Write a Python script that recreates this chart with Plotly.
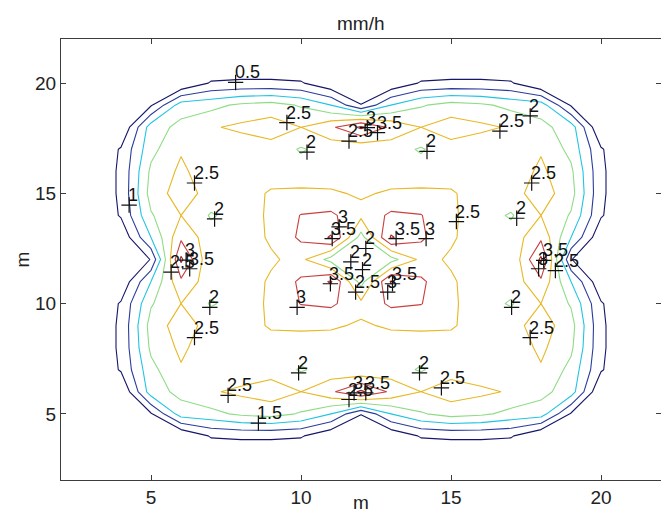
import plotly.graph_objects as go

# Grid coordinates (m)
x_m = list(range(2, 23))
y_m = list(range(2, 23))

# Application rate on the grid (mm/h); rows run from y=2 (bottom) to y=22 (top)
rain_mm_h = [
    [0, 0, 0, 0, 0, 0, 0, 0, 0, 0, 0, 0, 0, 0, 0, 0, 0, 0, 0, 0, 0],
    [0, 0, 0, 0, 0, 0, 0, 0, 0, 0, 0, 0, 0, 0, 0, 0, 0, 0, 0, 0, 0],
    [0, 0, 0, 0, 0, 0.55, 0.6, 0.6, 0.55, 0.1, 0, 0.1, 0.55, 0.6, 0.6, 0.55, 0, 0, 0, 0, 0],
    [0, 0, 0, 0.45, 1.75, 1.85, 2.1, 2.2, 1.95, 1.5, 0.52, 1.5, 1.95, 2.2, 2.1, 1.85, 1.75, 0.45, 0, 0, 0],
    [0, 0, 0, 1.75, 2.15, 2.45, 2.6, 2.75, 2.5, 2.9, 3.6, 2.9, 2.5, 2.75, 2.6, 2.45, 2.15, 1.75, 0, 0, 0],
    [0, 0, 0.55, 1.85, 2.45, 2.3, 2.2, 2.3, 1.95, 2.2, 2.05, 2.2, 1.95, 2.3, 2.2, 2.3, 2.45, 1.85, 0.55, 0, 0],
    [0, 0, 0.6, 2.1, 2.6, 2.2, 2.3, 2.3, 2.2, 2.3, 2.25, 2.3, 2.2, 2.3, 2.3, 2.2, 2.6, 2.1, 0.6, 0, 0],
    [0, 0, 0.6, 2.2, 2.75, 2.3, 2.3, 2.55, 2.6, 2.55, 2.45, 2.55, 2.6, 2.55, 2.3, 2.3, 2.75, 2.2, 0.6, 0, 0],
    [0, 0, 0.55, 1.95, 2.5, 1.95, 2.2, 2.6, 3.02, 3.1, 2.62, 3.1, 3.02, 2.6, 2.2, 1.95, 2.5, 1.95, 0.55, 0, 0],
    [0, 0, 0.1, 1.5, 2.9, 2.2, 2.3, 2.55, 3.1, 3.55, 1.8, 3.55, 3.1, 2.55, 2.3, 2.2, 2.9, 1.5, 0.1, 0, 0],
    [0, 0, 0, 0.52, 3.6, 2.05, 2.25, 2.45, 2.62, 1.8, 1.75, 1.8, 2.62, 2.45, 2.25, 2.05, 3.6, 0.52, 0, 0, 0],
    [0, 0, 0.1, 1.5, 2.9, 2.2, 2.3, 2.55, 3.1, 3.55, 1.8, 3.55, 3.1, 2.55, 2.3, 2.2, 2.9, 1.5, 0.1, 0, 0],
    [0, 0, 0.55, 1.95, 2.5, 1.95, 2.2, 2.6, 3.02, 3.1, 2.62, 3.1, 3.02, 2.6, 2.2, 1.95, 2.5, 1.95, 0.55, 0, 0],
    [0, 0, 0.6, 2.2, 2.75, 2.3, 2.3, 2.55, 2.6, 2.55, 2.45, 2.55, 2.6, 2.55, 2.3, 2.3, 2.75, 2.2, 0.6, 0, 0],
    [0, 0, 0.6, 2.1, 2.6, 2.2, 2.3, 2.3, 2.2, 2.3, 2.25, 2.3, 2.2, 2.3, 2.3, 2.2, 2.6, 2.1, 0.6, 0, 0],
    [0, 0, 0.55, 1.85, 2.45, 2.3, 2.2, 2.3, 1.95, 2.2, 2.05, 2.2, 1.95, 2.3, 2.2, 2.3, 2.45, 1.85, 0.55, 0, 0],
    [0, 0, 0, 1.75, 2.15, 2.45, 2.6, 2.75, 2.5, 2.9, 3.6, 2.9, 2.5, 2.75, 2.6, 2.45, 2.15, 1.75, 0, 0, 0],
    [0, 0, 0, 0.45, 1.75, 1.85, 2.1, 2.2, 1.95, 1.5, 0.52, 1.5, 1.95, 2.2, 2.1, 1.85, 1.75, 0.45, 0, 0, 0],
    [0, 0, 0, 0, 0, 0.55, 0.6, 0.6, 0.55, 0.1, 0, 0.1, 0.55, 0.6, 0.6, 0.55, 0, 0, 0, 0, 0],
    [0, 0, 0, 0, 0, 0, 0, 0, 0, 0, 0, 0, 0, 0, 0, 0, 0, 0, 0, 0, 0],
    [0, 0, 0, 0, 0, 0, 0, 0, 0, 0, 0, 0, 0, 0, 0, 0, 0, 0, 0, 0, 0],
]

# Contour levels and their line colours
levels = [0.5, 1.0, 1.5, 2.0, 2.5, 3.0, 3.5]
level_colors = ["#16166a", "#2a3c9c", "#22c4e4", "#8fdc86", "#e8b824", "#c84040", "#9a2a2a"]

# Contour labels: position of the "+" marker and the level it names
label_x = [7.82, 4.27, 6.45, 7.12, 9.53, 10.2, 11.6, 12.21, 12.55, 14.2, 16.63, 17.64,
           17.69, 17.19, 15.18, 13.17, 14.17, 11.27, 11.04, 12.16, 11.66, 12.05,
           10.98, 11.82, 13.05, 12.89, 9.87, 5.67, 6.17, 6.29, 6.96, 6.45,
           9.92, 7.57, 8.58, 11.6, 11.77, 12.16, 13.95, 14.68, 17.02, 17.64,
           17.92, 18.09, 18.48]
label_y = [20.03, 14.47, 15.47, 13.84, 18.21, 16.87, 17.37, 17.98, 17.75, 16.9, 17.82, 18.51,
           15.47, 13.87, 13.72, 12.95, 12.95, 13.48, 12.95, 12.5, 11.89, 11.54,
           10.9, 10.52, 10.9, 10.52, 9.83, 11.43, 11.97, 11.58, 9.83, 8.46,
           6.86, 5.84, 4.58, 5.65, 5.95, 5.95, 6.86, 6.18, 9.83, 8.46,
           11.58, 11.96, 11.5]
label_text = ["0.5", "1", "2.5", "2", "2.5", "2", "2.5", "3", "3.5", "2", "2.5", "2",
              "2.5", "2", "2.5", "3.5", "3", "3", "3.5", "2", "2", "2",
              "3.5", "2.5", "3.5", "3", "3", "2.5", "3", "3.5", "2", "2.5",
              "2", "2.5", "1.5", "2.5", "3", "3.5", "2", "2.5", "2", "2.5",
              "3", "3.5", "2.5"]

FONT = "Liberation Sans, Arial, sans-serif"

fig = go.Figure()

for lv, col in zip(levels, level_colors):
    fig.add_trace(go.Contour(
        x=x_m, y=y_m, z=rain_mm_h,
        autocontour=False,
        contours=dict(start=lv, end=lv, size=0.5, coloring="none"),
        line=dict(color=col, width=1.1, smoothing=0),
        showscale=False, hoverinfo="skip",
    ))

fig.add_trace(go.Scatter(
    x=label_x, y=label_y, mode="markers",
    marker=dict(symbol="cross-thin", size=11, line=dict(color="#111111", width=1.2)),
    hoverinfo="skip", showlegend=False,
))

annotations = []
for lx, ly, lt in zip(label_x, label_y, label_text):
    annotations.append(dict(
        x=lx, y=ly, xref="x", yref="y", text=lt, showarrow=False,
        xanchor="left", yanchor="bottom", xshift=-3, yshift=-2,
        font=dict(family=FONT, size=18, color="#111111"),
    ))

annotations += [
    dict(text="mm/h", x=0.5, y=1, xref="paper", yref="paper", yanchor="middle",
         yshift=16, showarrow=False, font=dict(family=FONT, size=19, color="#222222")),
    dict(text="m", x=0.5, y=0, xref="paper", yref="paper", yanchor="bottom",
         yshift=-35, showarrow=False, font=dict(family=FONT, size=19, color="#222222")),
    dict(text="m", x=0, y=0.5, xref="paper", yref="paper", xanchor="center",
         xshift=-39, textangle=-90, showarrow=False,
         font=dict(family=FONT, size=19, color="#222222")),
]

axis_style = dict(
    range=[2, 22], tickvals=[5, 10, 15, 20], ticks="inside", ticklen=5,
    tickcolor="#3c3c3c", showline=True, linecolor="#3c3c3c", linewidth=1,
    mirror="ticks", showgrid=False, zeroline=False,
    tickfont=dict(family=FONT, size=19, color="#222222"),
)

fig.update_layout(
    width=661, height=515,
    margin=dict(l=61, r=0, t=39, b=35),
    paper_bgcolor="white", plot_bgcolor="white",
    showlegend=False,
    xaxis=axis_style, yaxis=axis_style,
    annotations=annotations,
)

fig.write_html("out.html")
